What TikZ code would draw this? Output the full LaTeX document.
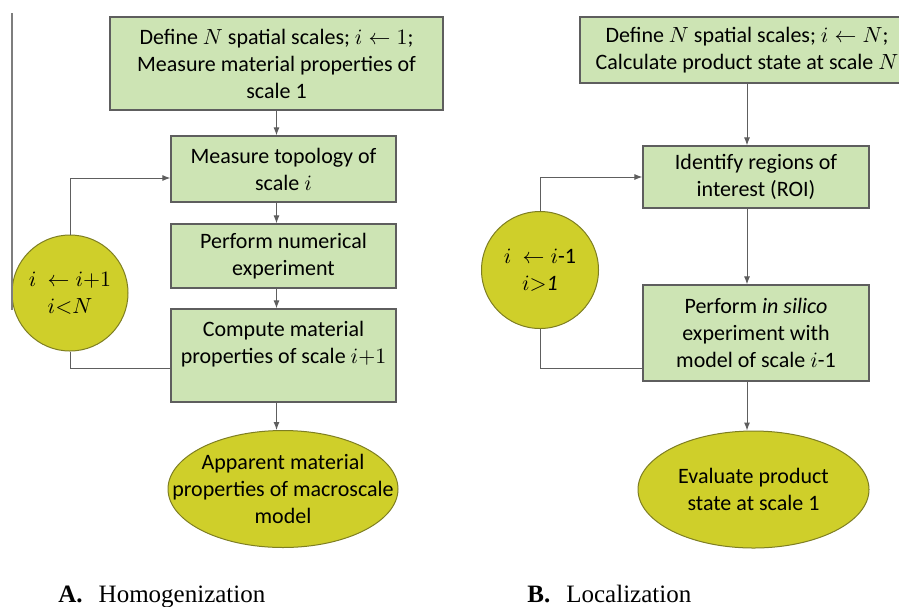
\documentclass[tikz,border=0pt]{standalone}
\usepackage{fontspec}
\setmainfont{Carlito}
\newfontfamily\capfont{Liberation Serif}
\usetikzlibrary{shapes.geometric, arrows.meta, positioning, calc}
\definecolor{boxgreen}{HTML}{CDE4B4}
\definecolor{blobyellow}{HTML}{CFCF2A}
\definecolor{blobedge}{HTML}{7E7E22}
\definecolor{edgegray}{HTML}{5E5E5E}

\begin{document}
\begin{tikzpicture}[
  x=0.5pt, y=-0.5pt,
  stepbox/.style 2 args={
    rectangle, draw=edgegray, fill=boxgreen, line width=0.6pt,
    minimum width=#1, minimum height=#2, inner sep=1pt,
    align=center, font=\fontsize{11}{13.5}\selectfont
  },
  endblob/.style={
    ellipse, draw=blobedge, fill=blobyellow, line width=0.5pt,
    minimum width=115pt, minimum height=58.5pt, inner xsep=-16pt, inner ysep=0pt,
    align=center, font=\fontsize{11}{13.5}\selectfont
  },
  loopblob/.style={
    circle, draw=blobedge, fill=blobyellow, line width=0.5pt,
    minimum size=58pt, inner sep=0pt,
    align=center, font=\fontsize{11}{13.5}\selectfont
  },
  arr/.style={-{Latex[length=4pt, width=3pt]}, edgegray, line width=0.5pt},
  link/.style={edgegray, line width=0.5pt},
  caption/.style={anchor=base west, inner sep=0pt, font=\capfont\fontsize{12.5}{14}\selectfont}
]
  \useasboundingbox (0,0) rectangle (899,606);
  \clip (0,0) rectangle (899,606);

  % A. Homogenization
  \node[stepbox={166.5pt}{46.5pt}] (hdef) at (276.5,63.5)
    {Define $N$ spatial scales; $i \leftarrow 1$;\\Measure material properties of\\scale 1};
  \node[stepbox={112.5pt}{33pt}] (htop) at (283.5,169) {Measure topology of\\scale $i$};
  \node[stepbox={112.5pt}{32pt}] (hnum) at (283.5,256) {Perform numerical\\experiment};
  \node[stepbox={112.5pt}{46.5pt}] (hcomp) at (283.5,355.5)
    {Compute material\\properties of scale $i{+}1$\\\mbox{}};
  \node[endblob] (hend) at (283,489) {Apparent material\\properties of macroscale\\model};
  \node[loopblob] (hloop) at (70,293) {$i\ \leftarrow i{+}1$\\$i{<}N$};

  \draw[arr] (hdef.south) -- (hdef.south |- htop.north);
  \draw[arr] (htop.south -| hdef.south) -- (hnum.north -| hdef.south);
  \draw[arr] (hnum.south -| hdef.south) -- (hcomp.north -| hdef.south);
  \draw[arr] (hcomp.south -| hdef.south) -- (hend.north -| hdef.south);

  % iteration loop
  \draw[arr] (hloop.north) |- ([yshift=-4.5pt]htop.west);
  \draw[link] ([yshift=-6.25pt]hcomp.west) -| (hloop.south);

  \draw[edgegray!80, line width=0.8pt] (12,13) -- (12,310);

  % B. Localization
  \node[stepbox={167pt}{33pt}] (ldef) at (747,50)
    {Define $N$ spatial scales; $i \leftarrow N$;\\Calculate product state at scale $N$};
  \node[stepbox={113pt}{31pt}] (lroi) at (756,177) {Identify regions of\\interest (ROI)};
  \node[stepbox={113pt}{48pt}] (lsim) at (756,333)
    {Perform \textit{in silico}\\experiment with\\model of scale $i$-1};
  \node[endblob, minimum width=115.5pt] (lend) at (753.5,489.5) {Evaluate product\\state at scale 1};
  \node[loopblob, minimum size=58.5pt] (lloop) at (540,270) {$i\ \leftarrow i$-1\\$i{>}\mathit{1}$};

  \draw[arr] (ldef.south) -- (ldef.south |- lroi.north);
  \draw[arr] (lroi.south -| ldef.south) -- (lsim.north -| ldef.south);
  \draw[arr] (lsim.south -| ldef.south) -- (lend.north -| ldef.south);

  % iteration loop
  \draw[arr] (lloop.north) |- (lroi.west);
  \draw[link] ([yshift=-17.5pt]lsim.west) -| (lloop.south);

  % captions
  \node[caption] (hcap) at (58,602) {\textbf{A.}\hspace{8pt}Homogenization};
  \node[caption] (lcap) at (527,602) {\textbf{B.}\hspace{8pt}Localization};
\end{tikzpicture}
\end{document}
